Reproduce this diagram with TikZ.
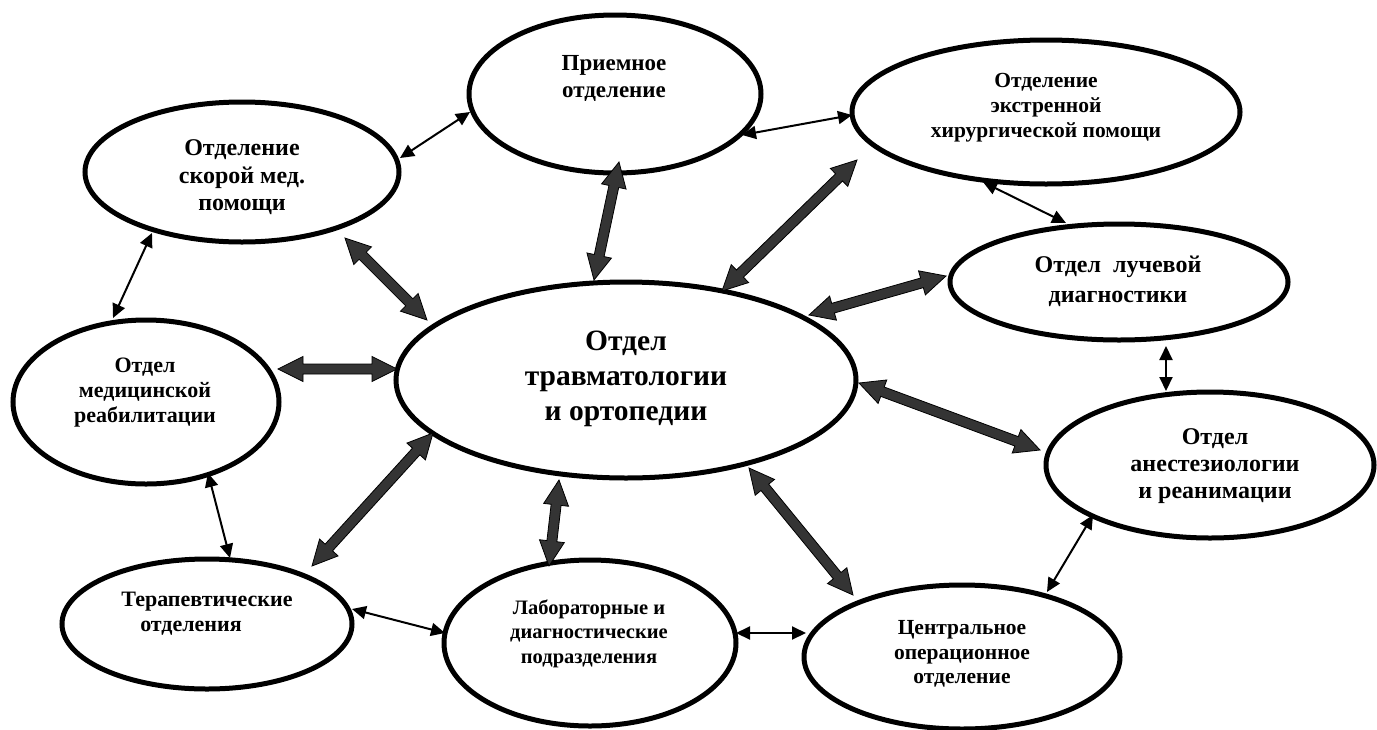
\documentclass[tikz,border=0pt]{standalone}
\usepackage{fontspec}
\setmainfont{Liberation Serif}
\usetikzlibrary{arrows.meta,calc,shapes.geometric}
\definecolor{fatgray}{RGB}{52,52,52}
\tikzset{
  ell/.style={draw=black, line width=5pt, shape=ellipse, inner sep=0pt, fill=white},
  lbl/.style 2 args={align=center, inner sep=0pt, font=\bfseries\fontsize{#1}{#2}\selectfont},
  link/.style={line width=2pt, {Triangle[length=14pt,width=13pt]}-{Triangle[length=14pt,width=13pt]}},
  fat/.style={fill=fatgray, draw=black, line width=0.8pt, line join=miter},
}
\newcommand\fatarrow[2]{%
  \path let \p1=#1, \p2=#2 in \pgfextra{%
    \pgfmathsetmacro\fatA{atan2(\y2-\y1,\x2-\x1)}%
    \pgfmathsetmacro\fatL{veclen(\x2-\x1,\y2-\y1)}%
    \xdef\fatA{\fatA}\xdef\fatL{\fatL}\xdef\fatX{\x1}\xdef\fatY{\y1}};
  \draw[fat, shift={(\fatX,\fatY)}, rotate=\fatA]
    (0pt,0pt) -- (25pt,12.5pt) -- (25pt,5pt) -- ({\fatL pt-25pt},5pt)
    -- ({\fatL pt-25pt},12.5pt) -- (\fatL pt,0pt) -- ({\fatL pt-25pt},-12.5pt)
    -- ({\fatL pt-25pt},-5pt) -- (25pt,-5pt) -- (25pt,-12.5pt) -- cycle;
}
\begin{document}
\begin{tikzpicture}[x=1pt,y=-1pt]
\useasboundingbox (0,0) rectangle (1377,729);
% ellipses
\node[ell, minimum width=292pt, minimum height=158pt] (pri) at (615,94) {};
\node[ell, minimum width=388pt, minimum height=144pt] (ext) at (1046,112) {};
\node[ell, minimum width=314pt, minimum height=140pt] (sko) at (242,172) {};
\node[ell, minimum width=338pt, minimum height=116pt] (luch) at (1119,282) {};
\node[ell, minimum width=266pt, minimum height=164pt] (med) at (146,402) {};
\node[ell, minimum width=460pt, minimum height=196pt] (cen) at (626,380) {};
\node[ell, minimum width=328pt, minimum height=146pt] (anes) at (1210,465) {};
\node[ell, minimum width=290pt, minimum height=130pt] (ter) at (207,624) {};
\node[ell, minimum width=292pt, minimum height=166pt] (lab) at (590,643) {};
\node[ell, minimum width=316pt, minimum height=144pt] (cop) at (962,657) {};
% texts
\node[lbl={23}{27}] (pri-t) at (614,78.5) {Приемное\\отделение};
\node[lbl={21.5}{25}] (ext-t) at (1046,108) {Отделение\\экстренной\\хирургической помощи};
\node[lbl={24}{27.5}] (sko-t) at (242,177.5) {Отделение\\скорой мед.\\помощи};
\node[lbl={24}{30}] (luch-t) at (1118,281) {Отдел\ \ лучевой\\диагностики};
\node[lbl={22}{25}] (med-t) at (145,393) {Отдел\\медицинской\\реабилитации};
\node[lbl={29.5}{35}] (cen-t) at (626,379) {Отдел\\травматологии\\и ортопедии};
\node[lbl={24}{27}] (anes-t) at (1215,466.5) {Отдел\\анестезиологии\\и реанимации};
\node[lbl={22}{25}] (ter-t) at (207,613.5) {Терапевтические\\отделения\hspace*{32pt}};
\node[lbl={20.5}{24.5}] (lab-t) at (589,633.5) {Лабораторные и\\диагностические\\подразделения};
\node[lbl={21.5}{24.5}] (cop-t) at (962,654) {Центральное\\операционное\\отделение};
% thin connectors
\draw[link] ($(sko)+(158,-14)$) -- ($(pri)+(-145,18)$);
\draw[link] ($(pri)+(127,41)$) -- ($(ext)+(-194,3)$);
\draw[link] ($(ext)+(-63,70)$) -- ($(luch)+(-53,-59)$);
\draw[link] ($(sko)+(-90,61)$) -- ($(med)+(-33,-84)$);
\draw[link] ($(luch)+(47,64)$) -- ($(anes)+(-44,-74)$);
\draw[link] ($(med)+(62,71)$) -- ($(ter)+(23,-66)$);
\draw[link] ($(ter)+(145,-15)$) -- ($(lab)+(-145,-10)$);
\draw[link] ($(lab)+(146,-10)$) -- ($(cop)+(-156,-24)$);
\draw[link] ($(cop)+(85,-65)$) -- ($(anes)+(-117,50)$);
% thick connectors
\fatarrow{($(sko)+(103,66)$)}{($(cen)+(-199,-60)$)}
\fatarrow{($(pri)+(4,68)$)}{($(cen)+(-32,-100)$)}
\fatarrow{($(ext)+(-189,48)$)}{($(cen)+(96,-89)$)}
\fatarrow{($(luch)+(-173,-6)$)}{($(cen)+(183,-65)$)}
\fatarrow{($(med)+(132,-33)$)}{($(cen)+(-229,-11)$)}
\fatarrow{($(cen)+(233,3)$)}{($(anes)+(-170,-15)$)}
\fatarrow{($(cen)+(123,88)$)}{($(cop)+(-109,-62)$)}
\fatarrow{($(cen)+(-67,100)$)}{($(lab)+(-41,-77)$)}
\fatarrow{($(cen)+(-193,53)$)}{($(ter)+(105,-58)$)}
\end{tikzpicture}
\end{document}
